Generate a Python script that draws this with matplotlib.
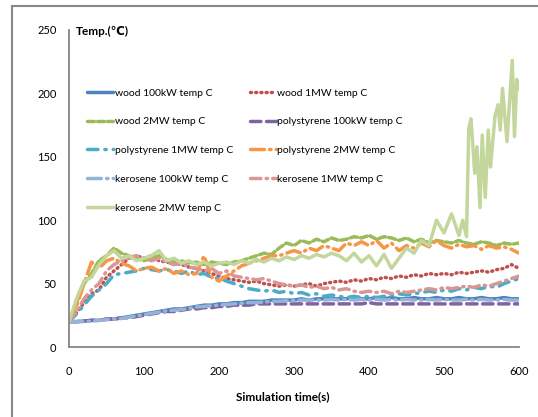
import numpy as np
import matplotlib
matplotlib.use("Agg")
import matplotlib.pyplot as plt
from matplotlib.lines import Line2D

plt.rcParams['font.family'] = ['Lato', 'DejaVu Sans']

# time axis (s), 10 s step
time = list(range(0, 601, 10))

wood_100kW = [20, 20, 20.5, 21, 21, 22, 22, 23, 24, 25, 26, 27, 28, 29, 30, 30, 31, 32, 33, 33,
              34, 34, 35, 35, 36, 36, 36, 37, 37, 37, 37, 38, 37, 38, 38, 38, 38, 38, 39, 38,
              38, 39, 38, 39, 38, 38, 39, 38, 38, 39, 38, 38, 39, 38, 38, 39, 38, 38, 39, 38, 38]
wood_1MW = [20, 27, 35, 42, 45, 55, 60, 65, 70, 72, 70, 72, 68, 67, 66, 65, 63, 62, 60, 58,
            56, 54, 53, 52, 51, 52, 50, 49, 48, 49, 48, 49, 50, 48, 50, 51, 52, 51, 53, 52,
            54, 53, 55, 54, 56, 55, 57, 56, 58, 57, 58, 57, 59, 58, 59, 60, 59, 61, 62, 65, 62]
wood_2MW = [20, 35, 50, 58, 68, 72, 78, 74, 72, 70, 68, 70, 72, 69, 67, 68, 66, 67, 65, 67,
            66, 65, 67, 68, 70, 72, 74, 73, 78, 82, 80, 84, 82, 85, 83, 86, 84, 85, 87, 86,
            88, 85, 87, 86, 84, 86, 83, 85, 82, 84, 83, 82, 84, 82, 81, 83, 82, 80, 82, 81, 82]
poly_100kW = [20, 20, 20.5, 21, 21, 22, 22, 23, 23, 24, 25, 26, 27, 28, 28, 29, 30, 30, 31, 31,
              32, 32, 33, 33, 33, 34, 34, 34, 34, 34, 34, 34, 34, 34, 34, 34, 34, 34, 34, 34,
              35, 34, 34, 34, 34, 34, 34, 34, 34, 34, 34, 34, 34, 34, 34, 34, 34, 34, 34, 34, 34]
poly_1MW = [20, 26, 33, 40, 45, 50, 57, 58, 59, 60, 62, 61, 60, 61, 60, 58, 60, 57, 58, 55,
            54, 52, 50, 48, 46, 45, 44, 45, 43, 44, 42, 43, 41, 42, 40, 41, 40, 39, 40, 39,
            40, 39, 40, 41, 42, 41, 42, 43, 44, 43, 45, 44, 46, 45, 47, 46, 48, 47, 50, 52, 54]
poly_2MW = [20, 32, 50, 67, 62, 68, 70, 66, 64, 60, 62, 63, 60, 62, 58, 60, 57, 58, 72, 55,
            52, 56, 60, 64, 66, 68, 70, 72, 72, 74, 76, 74, 78, 76, 80, 78, 76, 82, 80, 83,
            80, 84, 78, 82, 76, 80, 78, 82, 79, 84, 80, 78, 81, 79, 80, 77, 80, 78, 79, 77, 74]
kero_100kW = [20, 20, 20, 20.5, 21, 21.5, 22, 22.5, 23.5, 24.5, 25.5, 26.5, 27.5, 28.5, 29, 29.5,
              30.5, 31.5, 32, 32.5, 33, 33.5, 34, 34.5, 35, 35, 35.5, 36, 36, 36.5, 36.5, 37, 37,
              37, 37, 37.5, 37, 37.5, 37, 37.5, 37, 37.5, 37, 37.5, 37, 37.5, 37, 37, 37.5, 37,
              37.5, 37, 37, 37.5, 37, 37.5, 37, 37, 37.5, 37, 37]
kero_1MW = [20, 28, 38, 45, 50, 60, 65, 68, 70, 72, 70, 68, 70, 67, 65, 66, 63, 62, 60, 62,
            58, 60, 56, 55, 54, 53, 54, 52, 50, 49, 48, 49, 47, 48, 46, 47, 45, 46, 44, 43,
            44, 43, 44, 42, 44, 43, 44, 45, 46, 45, 47, 46, 47, 48, 47, 49, 48, 50, 52, 54, 56]

# kerosene 2MW is read with finer steps near the end
time_k2 = list(range(0, 521, 10)) + [525, 530, 533, 536, 541, 544, 548, 551, 555, 559, 562,
                                     568, 572, 575, 578, 584, 591, 594, 597, 600]
kero_2MW = [20, 38, 52, 55, 65, 72, 76, 70, 72, 68, 70, 72, 76, 68, 70, 66, 68, 65, 67, 64,
            66, 67, 65, 68, 66, 69, 67, 70, 68, 71, 69, 72, 70, 73, 71, 74, 72, 68, 74, 67,
            72, 64, 73, 62, 70, 78, 74, 84, 80, 100, 90, 105, 88,
            100, 87, 172, 180, 137, 158, 110, 167, 118, 171, 142, 182, 191, 171, 204, 162,
            226, 166, 211, 203]

labels = ['wood 100kW temp C', 'wood 1MW temp C', 'wood 2MW temp C',
          'polystyrene 100kW temp C', 'polystyrene 1MW temp C', 'polystyrene 2MW temp C',
          'kerosene 100kW temp C', 'kerosene 1MW temp C', 'kerosene 2MW temp C']
colors = ['#4F81BD', '#C0504D', '#9BBB59', '#8064A2', '#4BACC6', '#F79646',
          '#95B3D7', '#D99694', '#C3D69B']
styles = ['-', (0, (0.3, 1.2)), (0, (2, 0.9)), (0, (3, 1.6)), (0, (3, 2, 0.4, 2)),
          (0, (4, 1.5, 0.4, 1.5)), (0, (4, 1.5, 0.4, 1.5)), (0, (3, 1.5, 0.4, 1.5)), '-']
series = [(time, wood_100kW), (time, wood_1MW), (time, wood_2MW),
          (time, poly_100kW), (time, poly_1MW), (time, poly_2MW),
          (time, kero_100kW), (time, kero_1MW), (time_k2, kero_2MW)]

fig = plt.figure(figsize=(5.38, 4.17), dpi=100)
ax = fig.add_axes([69/538, 1 - 347/417, 450/538, 317/417])

handles = []
for (t, v), lab, c, ls in zip(series, labels, colors, styles):
    h, = ax.plot(t, v, color=c, lw=2.5, linestyle=ls, label=lab,
                 dash_capstyle='round', solid_capstyle='round')
    handles.append(h)

ax.set_xlim(0, 600)
ax.set_ylim(0, 250)
ax.set_xticks(range(0, 601, 100))
ax.set_yticks(range(0, 251, 50))
ax.tick_params(length=0, labelsize=8, colors='black')
ax.tick_params(axis='x', pad=14)
ax.tick_params(axis='y', pad=9)
for s in ['top', 'right']:
    ax.spines[s].set_visible(False)
for s in ['left', 'bottom']:
    ax.spines[s].set_color('#868686')
    ax.spines[s].set_linewidth(1.3)

order = [0, 2, 4, 6, 8, 1, 3, 5, 7]
ax.legend([handles[i] for i in order], [labels[i] for i in order], ncol=2,
          frameon=False, fontsize=7.5, loc='upper left',
          bbox_to_anchor=(82/538, 1 - 83/417), bbox_transform=fig.transFigure,
          borderpad=0, handlelength=2.5, handletextpad=0.15,
          labelspacing=1.87, columnspacing=1.6)

fig.text(76/538, 1 - 31/417, 'Temp.(\u2103)', fontsize=8.5, fontweight='bold',
         va='center', ha='left')
fig.text(283/538, 1 - 397/417, 'Simulation time(s)', fontsize=8.5, fontweight='bold',
         va='center', ha='center')

# outer chart border (left and top visible)
fig.add_artist(Line2D([12/538, 12/538], [0, 1 - 6/417], color='#888888', lw=1.5,
                      transform=fig.transFigure))
fig.add_artist(Line2D([12/538, 1], [1 - 6/417, 1 - 6/417], color='#888888', lw=1.5,
                      transform=fig.transFigure))

fig.savefig('out.png', dpi=100)
